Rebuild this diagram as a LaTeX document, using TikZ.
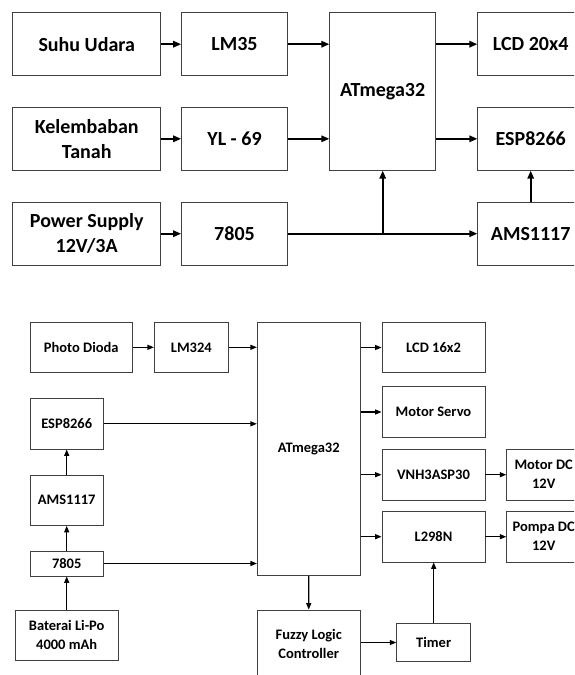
\documentclass[tikz,border=0pt]{standalone}
\usepackage{fontspec}
\setmainfont{Carlito}
\usetikzlibrary{arrows.meta}

\begin{document}
\begin{tikzpicture}[x=1pt,y=-1pt,
  blok/.style={draw=black!75,line width=.8pt,align=center,inner sep=0pt},
  besar/.style={blok,font=\fontsize{20}{25}\selectfont\bfseries,minimum width=106pt,minimum height=63pt},
  kecil/.style={blok,font=\fontsize{14.5}{19}\selectfont\bfseries,minimum width=103pt,minimum height=50.5pt},
  panah/.style={-{Triangle[length=8pt,width=6.5pt]},line width=1.6pt},
  panahk/.style={-{Triangle[length=6.5pt,width=5pt]},line width=1.2pt}]
\useasboundingbox (0,0) rectangle (574,675);
\clip (0,0) rectangle (574,675);
% diagram atas
\node[besar,minimum width=148pt] (suhu) at (86.7,44.2) {Suhu Udara};
\node[besar,minimum width=148pt] (lembab) at (86.7,138.8) {Kelembaban\\Tanah};
\node[besar,minimum width=148pt] (psu) at (86.7,233.7) {Power Supply\\12V/3A};
\node[besar] (lm35) at (234.5,44.2) {LM35};
\node[besar] (yl) at (234.5,138.8) {YL - 69};
\node[besar] (reg) at (234.5,233.7) {7805};
\node[besar,minimum height=157.6pt] (atm) at (382.7,91.5) {ATmega32};
\node[besar] (lcd) at (530.7,44.2) {LCD 20x4};
\node[besar] (esp) at (530.7,138.8) {ESP8266};
\node[besar] (ams) at (530.7,233.7) {AMS1117};
\draw[panah] (suhu) -- (lm35);
\draw[panah] (lembab) -- (yl);
\draw[panah] (psu) -- (reg);
\draw[panah] (lm35) -- (lm35.east -| atm.west);
\draw[panah] (yl) -- (yl.east -| atm.west);
\draw[panah] (atm.east |- lcd.west) -- (lcd);
\draw[panah] (atm.east |- esp.west) -- (esp);
\draw[panah] (reg) -- (ams);
\draw[panah] (reg.east -| atm.south) -- (atm.south);
\draw[panah] (ams) -- (esp);
% diagram bawah
\node[kecil,minimum width=102pt] (pd) at (81.2,347.3) {Photo Dioda};
\node[kecil,minimum width=74pt] (lm324) at (191.3,347.3) {LM324};
\node[kecil,minimum width=73.3pt] (esp2) at (66.7,423.8) {ESP8266};
\node[kecil,minimum width=73.3pt] (ams2) at (66.7,500.2) {AMS1117};
\node[kecil,minimum width=73.3pt,minimum height=25pt] (reg2) at (66.7,563.5) {7805};
\node[kecil] (bat) at (66.7,635.3) {Baterai Li-Po\\4000 mAh};
\node[kecil,minimum height=253.4pt] (atm2) at (308.8,449) {ATmega32};
\node[kecil,minimum height=68pt] (fuzzy) at (308.7,644) {Fuzzy Logic\\Controller};
\node[kecil] (lcd2) at (433.5,347.5) {LCD 16x2};
\node[kecil] (servo) at (433.5,412) {Motor Servo};
\node[kecil] (vnh) at (433.5,474.7) {VNH3ASP30};
\node[kecil] (l298) at (433.5,536.7) {L298N};
\node[kecil,minimum width=74pt] (motor) at (543.7,474.7) {Motor DC\\12V};
\node[kecil,minimum width=74pt] (pompa) at (543.7,536.7) {Pompa DC\\12V};
\node[kecil,minimum width=74pt,minimum height=38.4pt] (timer) at (433.7,642.5) {Timer};
\draw[panahk] (pd) -- (lm324);
\draw[panahk] (lm324) -- (lm324.east -| atm2.west);
\draw[panahk] (esp2) -- (esp2.east -| atm2.west);
\draw[panahk] (reg2) -- (reg2.east -| atm2.west);
\draw[panahk] (bat) -- (reg2);
\draw[panahk] (reg2) -- (ams2);
\draw[panahk] (ams2) -- (esp2);
\foreach \k in {lcd2,servo,vnh,l298}
  \draw[panahk] (atm2.east |- \k.west) -- (\k);
\draw[panahk] (vnh) -- (motor);
\draw[panahk] (l298) -- (pompa);
\draw[panahk] (atm2) -- (fuzzy);
\draw[panahk] (fuzzy.east |- timer.west) -- (timer);
\draw[panahk] (timer.north) -- (timer.north |- l298.south);
\end{tikzpicture}
\end{document}
